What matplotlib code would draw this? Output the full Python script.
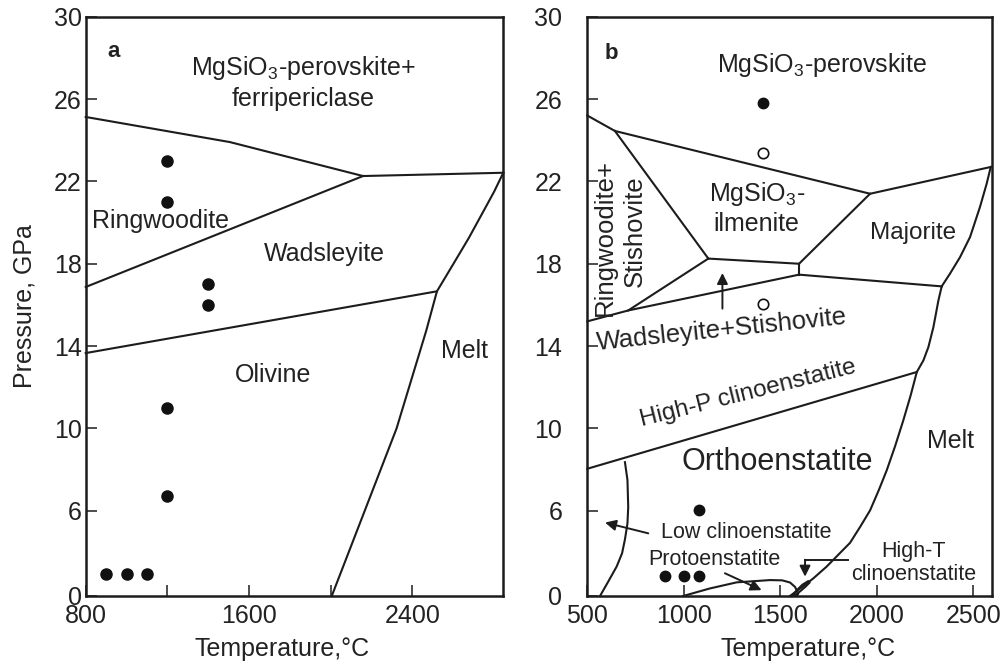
import numpy as np
import matplotlib
matplotlib.use('Agg')
import matplotlib.pyplot as plt

plt.rcParams['font.family'] = ['Liberation Sans', 'DejaVu Sans']
plt.rcParams['mathtext.fontset'] = 'custom'
plt.rcParams['mathtext.rm'] = 'Liberation Sans'

INK = '#1c1c1c'
TXT = '#222222'

# ---------------- shared axis data ----------------
y_ticks = [0, 6, 10, 14, 18, 22, 26, 30]
y_ticklabels = ['0', '6', '10', '14', '18', '22', '26', '30']

# ---------------- panel a ----------------
a_xticks = [800, 1200, 1600, 2000, 2400]
a_xticklabels = ['800', '', '1600', '', '2400']

a_pv_T = [800, 1506, 2158, 2845]
a_pv_P = [25.13, 23.91, 22.26, 22.42]
a_rw_T = [800, 2158]
a_rw_P = [16.87, 22.26]
a_wd_T = [800, 2520]
a_wd_P = [13.66, 16.66]
a_melt_T = [2005, 2322, 2468, 2520, 2598, 2676, 2756, 2800, 2845]
a_melt_P = [0, 9.99, 14.76, 16.66, 17.95, 19.25, 20.7, 21.5, 22.42]
a_pts_T = [1200, 1200, 1400, 1400, 1200, 1200, 900, 1000, 1100]
a_pts_P = [23, 21, 17, 16, 11, 6.7, 1.55, 1.55, 1.55]

# ---------------- panel b ----------------
b_xticks = [500, 1000, 1500, 2000, 2500]
b_xticklabels = ['500', '1000', '1500', '2000', '2500']

b_pv_T = [500, 643, 1965, 2590]
b_pv_P = [25.2, 24.45, 21.4, 22.7]
b_rs_T = [643, 1127]
b_rs_P = [24.45, 18.25]
b_ilm_bot_T = [1127, 1597]
b_ilm_bot_P = [18.25, 18.0]
b_ilm_maj_T = [1597, 1965]
b_ilm_maj_P = [18.0, 21.4]
b_short_T = [1597, 1597]
b_short_P = [18.0, 17.47]
b_maj_bot_T = [1597, 2336]
b_maj_bot_P = [17.47, 16.9]
b_maj_melt_T = [2336, 2379, 2431, 2483, 2534, 2569, 2590]
b_maj_melt_P = [16.9, 17.52, 18.32, 19.3, 20.75, 21.89, 22.7]
b_wd_T = [500, 712, 1597]
b_wd_P = [15.2, 15.73, 17.47]
b_rs_bot_T = [712, 1127]
b_rs_bot_P = [15.73, 18.25]
b_hp_T = [500, 2207]
b_hp_P = [8.04, 12.74]
b_melt_T = [1550, 1567, 1620, 1671, 1740, 1800, 1861, 1915, 1965, 2010, 2051,
            2095, 2137, 2175, 2207, 2241, 2267, 2293, 2319, 2336]
b_melt_P = [0, 0.17, 0.7, 1.24, 2.07, 2.9, 3.74, 4.9, 6.02, 7.0, 7.96,
            9.15, 10.39, 11.6, 12.74, 13.3, 13.95, 14.92, 16.22, 16.9]
b_lowc_T = [566, 610, 652, 680, 695, 708, 712, 708, 695]
b_lowc_P = [0, 1.05, 2.07, 3.0, 3.98, 5.1, 6.18, 7.5, 8.36]
b_proto_T = [997, 1135, 1274, 1447, 1510, 1550, 1576, 1593, 1585]
b_proto_P = [0, 0.53, 0.96, 1.12, 1.1, 0.95, 0.64, 0.17, 0]
b_lens_T = [1560, 1585, 1615, 1645, 1652, 1630, 1600, 1575, 1560]
b_lens_P = [0, 0.4, 0.8, 1.05, 0.95, 0.65, 0.3, 0.05, 0]
b_full_T = [1410, 1080, 900, 1000, 1080]
b_full_P = [25.8, 6.05, 1.43, 1.43, 1.43]
b_open_T = [1410, 1410]
b_open_P = [23.4, 16.06]

K = 0.69


def fwd(p):
    p = np.asarray(p, float)
    return np.where(p >= 6, p, 6 - (6 - p) * K)


def inv(u):
    u = np.asarray(u, float)
    return np.where(u >= 6, u, 6 - (6 - u) / K)


fig = plt.figure(figsize=(10, 6.71), dpi=100)
axa = fig.add_axes([0.0857, 0.1118, 0.4176, 0.8633])
axb = fig.add_axes([0.5873, 0.1118, 0.4044, 0.8633])

LW = 1.5


def style(ax, xlim, xticks, xticklabels, ypad):
    ax.set_yscale('function', functions=(fwd, inv))
    ax.set_xlim(*xlim)
    ax.set_ylim(0, 30)
    ax.set_xticks(xticks)
    ax.set_xticklabels(xticklabels)
    ax.set_yticks(y_ticks)
    ax.set_yticklabels(y_ticklabels)
    ax.minorticks_off()
    ax.tick_params(direction='in', length=8, width=1.1, color=INK,
                   labelsize=18, labelcolor=TXT)
    ax.tick_params(axis='y', pad=ypad)
    ax.tick_params(axis='x', pad=6)
    for s in ax.spines.values():
        s.set_linewidth(1.8)
        s.set_color(INK)
    ax.set_xlabel('Temperature,°C', fontsize=18, color=TXT, labelpad=8)


style(axa, (800, 2845), a_xticks, a_xticklabels, 3)
style(axb, (500, 2595), b_xticks, b_xticklabels, 18)
axa.set_ylabel('Pressure, GPa', fontsize=18, color=TXT, labelpad=12)
axa.xaxis.set_label_coords(0.47, -0.07)
axb.xaxis.set_label_coords(0.545, -0.07)

# ---- panel a drawing ----
for T, P in [(a_pv_T, a_pv_P), (a_rw_T, a_rw_P), (a_wd_T, a_wd_P), (a_melt_T, a_melt_P)]:
    axa.plot(T, P, color=INK, lw=LW, solid_joinstyle='miter', clip_on=False)
axa.plot(a_pts_T, a_pts_P, 'o', color='#111111', ms=8)

axa.text(934, 28.33, 'a', fontsize=16, fontweight='bold', color=TXT, ha='center', va='center')
axa.text(1865, 26.8, 'MgSiO$_\\mathregular{3}$-perovskite+\nferripericlase', fontsize=18,
         color=TXT, ha='center', va='center', linespacing=1.25)
axa.text(1164, 20.1, 'Ringwoodite', fontsize=18, color=TXT, ha='center', va='center')
axa.text(1971, 18.49, 'Wadsleyite', fontsize=18, color=TXT, ha='center', va='center')
axa.text(1718, 12.58, 'Olivine', fontsize=18, color=TXT, ha='center', va='center')
axa.text(2656, 13.76, 'Melt', fontsize=18, color=TXT, ha='center', va='center')

# ---- panel b drawing ----
b_lines = [(b_pv_T, b_pv_P), (b_rs_T, b_rs_P), (b_ilm_bot_T, b_ilm_bot_P),
           (b_ilm_maj_T, b_ilm_maj_P), (b_short_T, b_short_P), (b_maj_bot_T, b_maj_bot_P),
           (b_maj_melt_T, b_maj_melt_P), (b_wd_T, b_wd_P), (b_rs_bot_T, b_rs_bot_P),
           (b_hp_T, b_hp_P), (b_melt_T, b_melt_P), (b_lowc_T, b_lowc_P),
           (b_proto_T, b_proto_P), (b_lens_T, b_lens_P)]
for T, P in b_lines:
    axb.plot(T, P, color=INK, lw=LW, solid_joinstyle='round', clip_on=False)
axb.plot(b_full_T, b_full_P, 'o', color='#111111', ms=7.5)
axb.plot(b_open_T, b_open_P, 'o', mfc='white', mec='#111111', mew=1.2, ms=7.5)

axb.text(626, 28.2, 'b', fontsize=16, fontweight='bold', color=TXT, ha='center', va='center')
axb.text(1714, 27.64, 'MgSiO$_\\mathregular{3}$-perovskite', fontsize=18, color=TXT,
         ha='center', va='center')
axb.text(1378, 20.71, 'MgSiO$_\\mathregular{3}$-\nilmenite', fontsize=18, color=TXT,
         ha='center', va='center', linespacing=1.25)
axb.text(2189, 19.51, 'Majorite', fontsize=17.5, color=TXT, ha='center', va='center')
axb.text(592, 19.26, 'Ringwoodite+', fontsize=18.5, color=TXT, ha='center', va='center',
         rotation=90)
axb.text(748, 19.58, 'Stishovite', fontsize=18.5, color=TXT, ha='center', va='center',
         rotation=90)
axb.text(1195, 14.8, 'Wadsleyite+Stishovite', fontsize=18.5, color=TXT, ha='center',
         va='center', rotation=6, rotation_mode='anchor')
axb.text(1334, 11.69, 'High-P clinoenstatite', fontsize=17.5, color=TXT, ha='center',
         va='center', rotation=14, rotation_mode='anchor')
axb.text(1484, 8.36, 'Orthoenstatite', fontsize=22, color=TXT, ha='center', va='center')
axb.text(2379, 9.38, 'Melt', fontsize=18, color=TXT, ha='center', va='center')
axb.text(1321, 4.5, 'Low clinoenstatite', fontsize=15.5, color=TXT, ha='center', va='center')
axb.text(1158, 2.55, 'Protoenstatite', fontsize=15.5, color=TXT, ha='center', va='center')
axb.text(2191, 2.34, 'High-T\nclinoenstatite', fontsize=15.5, color=TXT, ha='center',
         va='center', linespacing=1.1)

ap = dict(arrowstyle='-|>', color=INK, lw=1.4, mutation_scale=16, shrinkA=0, shrinkB=0)
axb.annotate('', xy=(1200, 17.55), xytext=(1200, 15.82), arrowprops=ap)
axb.annotate('', xy=(592, 5.17), xytext=(816, 4.41), arrowprops=ap)
axb.annotate('', xy=(1403, 0.41), xytext=(1213, 1.6), arrowprops=ap)
axb.plot([1852, 1628], [2.55, 2.55], color=INK, lw=1.4)
axb.annotate('', xy=(1628, 1.36), xytext=(1628, 2.55), arrowprops=ap)

fig.savefig('out.png', dpi=100, facecolor='white')
